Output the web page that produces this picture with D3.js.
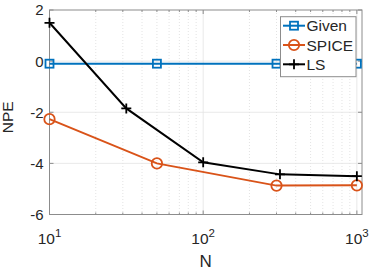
<!DOCTYPE html>
<html>
<head>
<meta charset="utf-8">
<script src="https://d3js.org/d3.v7.min.js"></script>
<style>
  body { margin: 0; background: #fff; }
  svg text { font-family: "Liberation Sans", Arial, Helvetica, sans-serif; fill: #262626; }
</style>
</head>
<body>
<div id="chart"></div>
<script>
// data
var nGiven = [10, 50, 300, 1000];
var given  = [-0.1, -0.1, -0.1, -0.1];
var nSpice = [10, 50, 300, 1000];
var spice  = [-2.27, -4.0, -4.87, -4.86];
var nLS    = [10, 31.6, 100, 316, 1000];
var ls     = [1.5, -1.85, -3.96, -4.43, -4.5];

var xLimits = [10, 1080];
var yLimits = [-6, 2];
var xTicks = [10, 100, 1000];
var yTicks = [-6, -4, -2, 0, 2];
var seriesNames = ["Given", "SPICE", "LS"];

var W = 382, H = 272;
var margin = {top: 10, right: 20, bottom: 57.5, left: 49.5};
var width = W - margin.left - margin.right,
    height = H - margin.top - margin.bottom;

var svg = d3.select("#chart").append("svg")
    .attr("width", W).attr("height", H)
  .append("g")
    .attr("transform", "translate(" + margin.left + "," + margin.top + ")");

var x = d3.scaleLog().domain(xLimits).range([0, width]);
var y = d3.scaleLinear().domain(yLimits).range([height, 0]);

// minor ticks on the log axis
var minorTicks = [];
for (var dec = 10; dec < 1000; dec *= 10) {
  for (var k = 2; k <= 9; k++) minorTicks.push(k * dec);
}

// grid
svg.append("g").selectAll("line.minor")
  .data(minorTicks).join("line")
    .attr("x1", d => x(d)).attr("x2", d => x(d))
    .attr("y1", 0).attr("y2", height)
    .attr("stroke", "#d0d0d0").attr("stroke-width", 0.6)
    .attr("stroke-dasharray", "1,2");
svg.append("g").selectAll("line.major")
  .data(xTicks.slice(1)).join("line")
    .attr("x1", d => x(d)).attr("x2", d => x(d))
    .attr("y1", 0).attr("y2", height)
    .attr("stroke", "#e3e3e3").attr("stroke-width", 0.8);
svg.append("g").selectAll("line")
  .data(yTicks.slice(1, -1)).join("line")
    .attr("x1", 0).attr("x2", width)
    .attr("y1", d => y(d)).attr("y2", d => y(d))
    .attr("stroke", "#e3e3e3").attr("stroke-width", 0.8);

// box
svg.append("rect")
  .attr("width", width).attr("height", height)
  .attr("fill", "none").attr("stroke", "#8c8c8c").attr("stroke-width", 1);

// ticks (inside)
var tickG = svg.append("g").attr("stroke", "#8c8c8c").attr("stroke-width", 1);
xTicks.forEach(function(t) {
  tickG.append("line").attr("x1", x(t)).attr("x2", x(t)).attr("y1", height).attr("y2", height - 4);
  tickG.append("line").attr("x1", x(t)).attr("x2", x(t)).attr("y1", 0).attr("y2", 4);
});
minorTicks.forEach(function(t) {
  tickG.append("line").attr("x1", x(t)).attr("x2", x(t)).attr("y1", height).attr("y2", height - 2);
  tickG.append("line").attr("x1", x(t)).attr("x2", x(t)).attr("y1", 0).attr("y2", 2);
});
yTicks.forEach(function(t) {
  tickG.append("line").attr("x1", 0).attr("x2", 4).attr("y1", y(t)).attr("y2", y(t));
  tickG.append("line").attr("x1", width).attr("x2", width - 4).attr("y1", y(t)).attr("y2", y(t));
});

// tick labels
svg.append("g").selectAll("text")
  .data(yTicks).join("text")
    .attr("x", -6).attr("y", d => y(d))
    .attr("dy", "0.36em")
    .attr("text-anchor", "end")
    .style("font-size", "15px")
    .text(d => d);

var xl = svg.append("g").selectAll("text")
  .data(xTicks).join("text")
    .attr("x", d => x(d)).attr("y", height + 29)
    .attr("text-anchor", "middle")
    .style("font-size", "15.5px");
xl.append("tspan").text("10");
xl.append("tspan").attr("dy", "-0.55em").style("font-size", "11.5px")
  .text(d => Math.round(Math.log10(d)));

// axis labels
svg.append("text")
  .attr("x", width / 2).attr("y", height + 52)
  .attr("text-anchor", "middle").style("font-size", "17px")
  .text("N");
svg.append("text")
  .attr("transform", "translate(" + (-36.5) + "," + y(-2.2) + ") rotate(-90)")
  .attr("text-anchor", "middle").style("font-size", "15.5px")
  .text("NPE");

// series
var blue = "#0072BD", orange = "#D95319", black = "#000000";
var line = d3.line().x(d => x(d[0])).y(d => y(d[1]));

var gData = d3.zip(nGiven, given), sData = d3.zip(nSpice, spice), lData = d3.zip(nLS, ls);

svg.append("path").datum(gData).attr("d", line)
  .attr("fill", "none").attr("stroke", blue).attr("stroke-width", 2);
svg.append("path").datum(sData).attr("d", line)
  .attr("fill", "none").attr("stroke", orange).attr("stroke-width", 2);
svg.append("path").datum(lData).attr("d", line)
  .attr("fill", "none").attr("stroke", black).attr("stroke-width", 2);

function square(g, cx, cy) {
  g.append("rect").attr("x", cx - 4).attr("y", cy - 4).attr("width", 8).attr("height", 8)
    .attr("fill", "none").attr("stroke", blue).attr("stroke-width", 1.8);
}
function circle(g, cx, cy) {
  g.append("circle").attr("cx", cx).attr("cy", cy).attr("r", 5.2)
    .attr("fill", "none").attr("stroke", orange).attr("stroke-width", 1.8);
}
function plus(g, cx, cy) {
  g.append("path").attr("d", "M" + (cx - 5) + "," + cy + "H" + (cx + 5) + "M" + cx + "," + (cy - 5) + "V" + (cy + 5))
    .attr("stroke", black).attr("stroke-width", 1.8);
}
var mk = svg.append("g");
gData.forEach(d => square(mk, x(d[0]), y(d[1])));
sData.forEach(d => circle(mk, x(d[0]), y(d[1])));
lData.forEach(d => plus(mk, x(d[0]), y(d[1])));

// legend
var lg = svg.append("g").attr("transform", "translate(" + (280.5 - margin.left) + "," + (16.7 - margin.top) + ")");
lg.append("rect").attr("width", 75.5).attr("height", 60)
  .attr("fill", "#fff").attr("stroke", "#8c8c8c").attr("stroke-width", 1);
var markers = [square, circle, plus], colors = [blue, orange, black];
seriesNames.forEach(function(name, i) {
  var cy = 9 + i * 19.3;
  lg.append("line").attr("x1", 2.5).attr("x2", 24.5).attr("y1", cy).attr("y2", cy)
    .attr("stroke", colors[i]).attr("stroke-width", 2);
  markers[i](lg, 13.5, cy);
  lg.append("text").attr("x", 26).attr("y", cy).attr("dy", "0.36em")
    .style("font-size", "15.5px").text(name);
});
</script>
</body>
</html>
